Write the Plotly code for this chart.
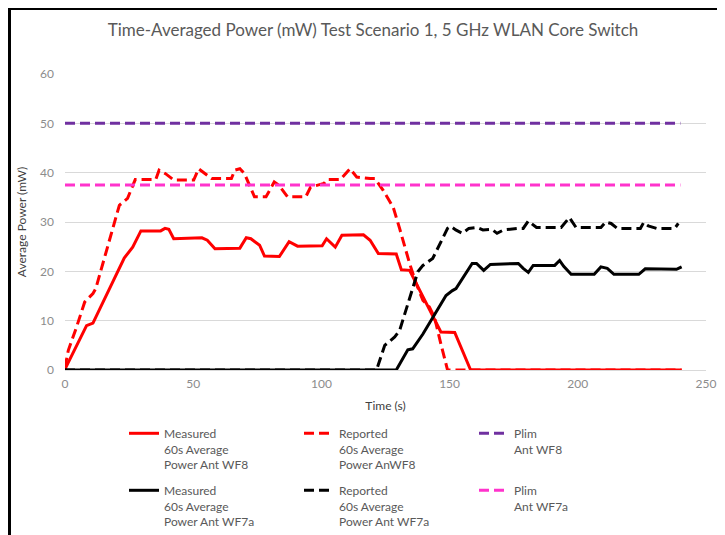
import plotly.graph_objects as go

# ---- data ----
t_meas_wf8 = [0, 8.4, 10.9, 23.1, 26.4, 29.6, 37.3, 39, 40.5, 42.4, 53.4, 55.5, 58.5, 68.2, 70.7, 72.5,
              75.9, 77.8, 83.6, 87.4, 90.7, 100.3, 102, 105.4, 108, 116.4, 119, 122.2, 129.2, 131.2,
              134.4, 146.6, 152, 158.2, 240.5]
p_meas_wf8 = [0.2, 9.0, 9.5, 22.7, 24.9, 28.2, 28.2, 28.7, 28.5, 26.6, 26.8, 26.3, 24.6, 24.7, 26.8, 26.6,
              25.3, 23.1, 23.0, 26.0, 25.1, 25.2, 26.6, 24.9, 27.3, 27.4, 26.3, 23.6, 23.5, 20.3,
              20.2, 7.7, 7.6, 0, 0]

t_rep_wf8 = [0, 1.3, 4.5, 7.7, 10.9, 12, 21.2, 24.4, 27.4, 35.4, 36.7, 39.2, 42.4, 50.2, 52.1, 54.5,
             57.2, 64.9, 66.2, 68.2, 70, 73.9, 78.4, 81.6, 83.5, 86.8, 93.9, 95.8, 101, 102.2, 107.4,
             111.2, 113.8, 119, 120.9, 124.1, 128, 130.5, 134.4, 137, 139.6, 142.1, 144.1, 146.6,
             149.2, 240.5]
p_rep_wf8 = [0.5, 4, 8.7, 13.8, 15.5, 16.5, 33.4, 34.8, 38.6, 38.6, 40.5, 39.8, 38.5, 38.5, 40.8, 39.8,
             38.8, 38.8, 40.5, 40.8, 39.8, 35.1, 35.1, 38.1, 37.4, 35.1, 35.1, 37.1, 37.8, 38.6, 38.6,
             40.8, 39.1, 38.8, 38.8, 36.4, 33.0, 28.7, 21.6, 17.5, 14.1, 12.8, 10.7, 5.3,
             0, 0]

t_meas_wf7a = [0, 129.2, 133.7, 135.6, 139.6, 148.6, 151.1, 152.5, 158.8, 160.5, 163.3, 165.9, 176.8,
               178.7, 180.7, 182.6, 191, 192.9, 194.5, 197.4, 206.4, 209, 211.5, 214.1, 223.8, 226.3,
               238.5, 240.5]
p_meas_wf7a = [0, 0, 4.1, 4.3, 7.3, 15.1, 16.1, 16.5, 21.6, 21.6, 20.2, 21.4, 21.6,
               20.6, 19.8, 21.2, 21.2, 22.2, 21.0, 19.4, 19.4, 20.9, 20.6, 19.4, 19.4, 20.5,
               20.4, 20.9]

t_rep_wf7a = [0, 121.5, 124.7, 126, 128.6, 130.5, 134.4, 137.6, 139.6, 143.4, 149.2, 150.5, 152.4, 155,
              157.5, 160.7, 163, 166.5, 168.5, 171.1, 176.8, 178.7, 180.7, 183.9, 193.5, 196.7, 199.3,
              209, 210.9, 213, 215.4, 224.4, 225.7, 227.5, 230.8, 237.8, 239.2]
p_rep_wf7a = [0, 0, 5.0, 5.6, 6.7, 8.0, 14.8, 19.9, 21.2, 22.6, 28.7, 29.1, 28.4, 27.7,
              28.7, 28.9, 28.4, 28.5, 27.7, 28.4, 28.7, 28.7, 30.2, 28.9, 28.9, 30.9, 28.9,
              28.9, 30.0, 29.7, 28.7, 28.7, 29.9, 29.2, 28.7, 28.7, 29.7]

t_plim = [0, 240]
plim_wf8 = [50, 50]
plim_wf7a = [37.5, 37.5]

names = ["Measured<br>60s Average<br>Power Ant WF8",
         "Reported<br>60s Average<br>Power AnWF8",
         "Plim<br>Ant WF8",
         "Measured<br>60s Average<br>Power Ant WF7a",
         "Reported<br>60s Average<br>Power Ant WF7a",
         "Plim<br>Ant WF7a"]

x_ticks = [0, 50, 100, 150, 200, 250]
y_ticks = [0, 10, 20, 30, 40, 50, 60]

DASH = "10px,5px"
series = [
    (t_meas_wf8, p_meas_wf8, "#FF0000", "solid", "legend"),
    (t_rep_wf8, p_rep_wf8, "#FF0000", DASH, "legend"),
    (t_plim, plim_wf8, "#7030A0", DASH, "legend"),
    (t_meas_wf7a, p_meas_wf7a, "#000000", "solid", "legend2"),
    (t_rep_wf7a, p_rep_wf7a, "#000000", DASH, "legend2"),
    (t_plim, plim_wf7a, "#FF33CC", DASH, "legend2"),
]

fig = go.Figure()
for (xs, ys, col, dash, lg), nm in zip(series, names):
    fig.add_trace(go.Scatter(x=xs, y=ys, mode="lines", name=nm, legend=lg,
                             line=dict(color=col, width=3, dash=dash)))

# the page body adds an 8px offset; figure coordinates below are screen - 8
W, H = 709, 527
L, R, T, B = 57, 11, 66, 165
pw, ph = W - L - R, H - T - B


def px_x(px):
    return (px - L) / pw


def px_y(py):
    return (H - B - py) / ph


leg_common = dict(orientation="h", xanchor="left", yanchor="top",
                  entrywidth=130, entrywidthmode="pixels", valign="top",
                  font=dict(size=12, color="#595959", family="Lato"),
                  bgcolor="rgba(0,0,0,0)", traceorder="normal")

fig.update_layout(
    width=W, height=H,
    margin=dict(l=L, r=R, t=T, b=B, autoexpand=False),
    paper_bgcolor="white", plot_bgcolor="white",
    font=dict(family="Lato", color="#595959", size=12),
    title=dict(text="Time-Averaged Power (mW) Test Scenario 1, 5 GHz WLAN Core Switch",
               x=px_x(365), xref="paper", xanchor="center", y=1 - 22 / H, yanchor="middle",
               font=dict(size=17, color="#595959", family="Lato")),
    xaxis=dict(range=[0, 250], tickvals=x_ticks, showgrid=False, zeroline=False,
               showline=True, linecolor="#D9D9D9", linewidth=1, automargin=False,
               ticks="", ticklabelstandoff=3, ticklabeloverflow="allow",
               title=dict(text="Time (s)", font=dict(size=12, color="#404040"), standoff=11),
               tickfont=dict(size=12, color="#8C8C8C")),
    yaxis=dict(range=[0, 60], tickvals=y_ticks, showgrid=True, gridcolor="#D9D9D9",
               gridwidth=1, zeroline=False, showline=False, ticks="", ticklabelstandoff=10,
               automargin=False, ticklabeloverflow="allow",
               title=dict(text="Average Power (mW)", font=dict(size=12, color="#404040"), standoff=10),
               tickfont=dict(size=12, color="#8C8C8C")),
    showlegend=True,
    legend=dict(x=px_x(116), y=px_y(411), **leg_common),
    legend2=dict(x=px_x(116), y=px_y(468), **leg_common),
    shapes=[
        dict(type="line", xref="paper", yref="paper", x0=px_x(0), x1=px_x(W + 5),
             y0=px_y(0.5), y1=px_y(0.5), line=dict(color="black", width=3)),
        dict(type="line", xref="paper", yref="paper", x0=px_x(1.5), x1=px_x(1.5),
             y0=px_y(-1), y1=px_y(H + 5), line=dict(color="black", width=3)),
    ],
)

fig.write_html("out.html")
